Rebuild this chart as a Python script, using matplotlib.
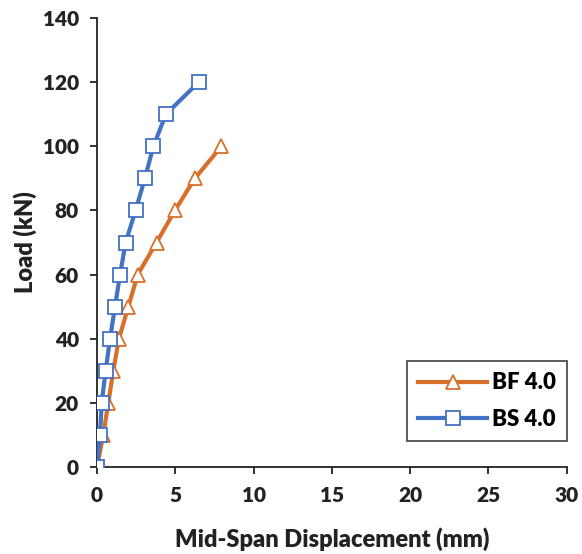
import numpy as np
import matplotlib
matplotlib.use('Agg')
import matplotlib.pyplot as plt

plt.rcParams['font.family'] = ['Lato', 'DejaVu Sans']
plt.rcParams['font.weight'] = 'heavy'

# data
load = [0, 10, 20, 30, 40, 50, 60, 70, 80, 90, 100, 110, 120]
bf_disp = [0.0, 0.4, 0.72, 1.04, 1.4, 2.0, 2.6, 3.8, 4.98, 6.25, 7.95]
bs_disp = [0.0, 0.19, 0.3, 0.55, 0.83, 1.15, 1.47, 1.83, 2.46, 3.06, 3.6, 4.4, 6.5]
x_ticks = [0, 5, 10, 15, 20, 25, 30]
y_ticks = [0, 20, 40, 60, 80, 100, 120, 140]

orange = '#D86F2A'
blue = '#4472C4'
ink = '#222222'

fig = plt.figure(figsize=(5.82, 5.54), dpi=100)
ax = fig.add_axes([0.1667, 0.157, 0.807, 0.8105])

ax.plot(bf_disp, load[:len(bf_disp)], color=orange, lw=3, marker='^', ms=10,
        mfc='white', mec=orange, mew=1.3, label='BF 4.0', zorder=3)
ax.plot(bs_disp, load, color=blue, lw=3, marker='s', ms=9.5,
        mfc='white', mec=blue, mew=1.3, label='BS 4.0', zorder=4)

ax.set_xlim(0, 30)
ax.set_ylim(0, 140)
ax.set_xticks(x_ticks)
ax.set_yticks(y_ticks)
ax.spines['top'].set_visible(False)
ax.spines['right'].set_visible(False)
for s in ['left', 'bottom']:
    ax.spines[s].set_linewidth(1.3)
    ax.spines[s].set_color(ink)
ax.tick_params(axis='both', direction='out', length=5, width=1.3, labelsize=15,
               colors=ink)
ax.tick_params(axis='x', pad=9)
ax.tick_params(axis='y', pad=8)
for lab in ax.get_xticklabels() + ax.get_yticklabels():
    lab.set_fontweight('heavy')

ax.set_xlabel('Mid-Span Displacement (mm)', fontsize=17, fontweight='heavy',
              color=ink, labelpad=16)
ax.set_ylabel('Load (kN)', fontsize=17, fontweight='heavy', color=ink, labelpad=4)

leg = ax.legend(loc='lower right', bbox_to_anchor=(1.0, 0.058), fontsize=16,
                frameon=True, fancybox=False, edgecolor=ink,
                handlelength=3.1, borderpad=0.5, labelspacing=0.7,
                handletextpad=0.2, borderaxespad=0)
leg.get_frame().set_linewidth(1.3)
for t in leg.get_texts():
    t.set_fontweight('heavy')

fig.savefig('out.png', dpi=100)
